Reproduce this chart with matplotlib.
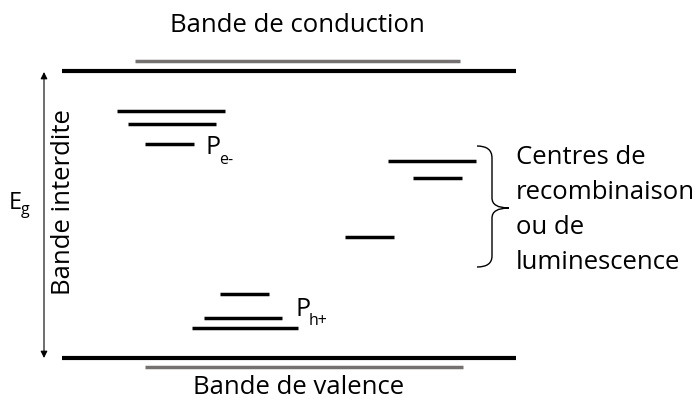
import matplotlib.pyplot as plt
from matplotlib.path import Path
from matplotlib.patches import PathPatch

plt.rcParams['font.family'] = ['Open Sans', 'DejaVu Sans']

# bandes (x debut, x fin, y) en pixels de l'image
bande_noire_x = [62, 516]
bande_noire_y = [71, 358]
bande_grise_x0 = [135, 145]
bande_grise_x1 = [460, 463]
bande_grise_y = [61, 367]

# niveaux pieges a electrons
pe_x0 = [117, 128, 145]
pe_x1 = [225, 216, 194]
pe_y = [111, 124, 144]

# niveaux pieges a trous
ph_x0 = [220, 204, 192]
ph_x1 = [269, 282, 298]
ph_y = [294, 318, 328]

# centres de recombinaison
rc_x0 = [388, 413, 345]
rc_x1 = [476, 462, 394]
rc_y = [161, 178, 237]

fig = plt.figure(figsize=(6.98, 4.03), dpi=100)
ax = fig.add_axes([0, 0, 1, 1])
ax.set_xlim(0, 698)
ax.set_ylim(403, 0)
ax.axis('off')

# bandes de conduction / valence
for y in bande_noire_y:
    ax.plot(bande_noire_x, [y, y], color='black', lw=3, solid_capstyle='butt')
for x0, x1, y in zip(bande_grise_x0, bande_grise_x1, bande_grise_y):
    ax.plot([x0, x1], [y, y], color='#767171', lw=2.5, solid_capstyle='butt')

# niveaux
for xs0, xs1, ys in [(pe_x0, pe_x1, pe_y), (ph_x0, ph_x1, ph_y), (rc_x0, rc_x1, rc_y)]:
    for x0, x1, y in zip(xs0, xs1, ys):
        ax.plot([x0, x1], [y, y], color='black', lw=2.5, solid_capstyle='butt')

# fleche Eg
ax.annotate('', xy=(44, 72), xytext=(44, 358),
            arrowprops=dict(arrowstyle='<|-|>', lw=0.8, color='black',
                            mutation_scale=10, shrinkA=0, shrinkB=0))

# accolade
verts = [(477, 146), (492, 146), (492, 158), (492, 198), (492, 208), (509, 208),
         (492, 208), (492, 218), (492, 256), (492, 267), (477, 267)]
codes = [Path.MOVETO, Path.CURVE3, Path.CURVE3, Path.LINETO, Path.CURVE3, Path.CURVE3,
         Path.CURVE3, Path.CURVE3, Path.LINETO, Path.CURVE3, Path.CURVE3]
ax.add_patch(PathPatch(Path(verts, codes), fill=False, lw=1, color='black'))

# textes
ax.text(297, 26, 'Bande de conduction', fontsize=18.5, ha='center', va='center')
ax.text(299, 387, 'Bande de valence', fontsize=18.5, ha='center', va='center')
ax.text(64, 202, 'Bande interdite', fontsize=18.5, ha='center', va='center', rotation=90)
ax.text(9, 209, 'E', fontsize=17, ha='left', va='baseline')
ax.text(21, 214, 'g', fontsize=11.5, ha='left', va='baseline')
ax.text(205, 154, 'P', fontsize=18, ha='left', va='baseline')
ax.text(219, 164, 'e-', fontsize=11.5, ha='left', va='baseline')
ax.text(295, 316, 'P', fontsize=18, ha='left', va='baseline')
ax.text(309, 325, 'h+', fontsize=11.5, ha='left', va='baseline')
ax.text(516, 210, 'Centres de\nrecombinaison\nou de\nluminescence', fontsize=18.5,
        ha='left', va='center', linespacing=1.52)

fig.savefig('out.png', dpi=100)
